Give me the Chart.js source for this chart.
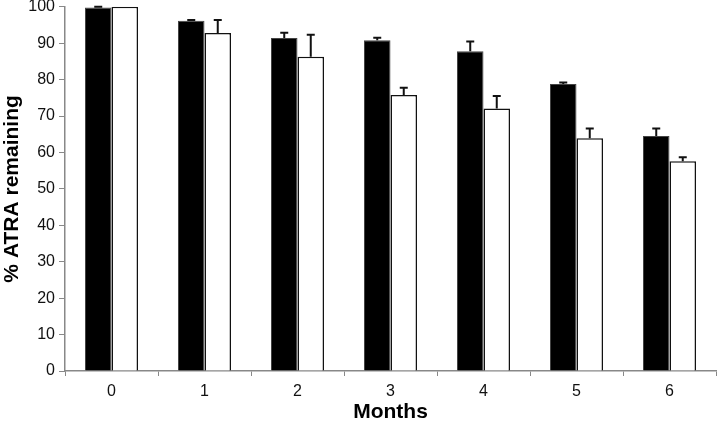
<!DOCTYPE html>
<html>
<head>
<meta charset="utf-8">
<script src="https://cdn.jsdelivr.net/npm/chart.js@4/dist/chart.umd.min.js"></script>
<style>
  html, body { margin: 0; padding: 0; background: #fff; }
  #wrap { width: 717px; height: 423px; }
</style>
</head>
<body>
<div id="wrap"><canvas id="myChart" width="717" height="423"></canvas></div>
<script>
var months = ["0", "1", "2", "3", "4", "5", "6"];
var blackValues = [99.8, 96.2, 91.4, 90.8, 87.8, 78.8, 64.5];
var blackErrors = [0.2, 0.2, 1.5, 0.7, 2.7, 0.4, 2.1];
var whiteValues = [100, 92.8, 86.3, 75.8, 72.1, 63.9, 57.6];
var whiteErrors = [0, 3.6, 6.0, 2.0, 3.4, 2.7, 1.1];

// upward error bars with a cap
const errorBars = {
  id: "errorBars",
  afterDatasetsDraw(chart) {
    const ctx = chart.ctx;
    const yScale = chart.scales.y;
    chart.data.datasets.forEach(function (ds, i) {
      const meta = chart.getDatasetMeta(i);
      meta.data.forEach(function (bar, j) {
        const err = ds.errors[j];
        if (!err) return;
        const yTop = yScale.getPixelForValue(ds.data[j] + err);
        ctx.save();
        ctx.strokeStyle = "#111";
        ctx.lineWidth = 2;
        ctx.beginPath();
        ctx.moveTo(bar.x, bar.y);
        ctx.lineTo(bar.x, yTop);
        ctx.moveTo(bar.x - 4, yTop);
        ctx.lineTo(bar.x + 4, yTop);
        ctx.stroke();
        ctx.restore();
      });
    });
  }
};

const ctx = document.getElementById("myChart");
const myChart = new Chart(ctx, {
  type: "bar",
  data: {
    labels: months,
    datasets: [
      {
        data: blackValues,
        errors: blackErrors,
        backgroundColor: "#000",
        borderColor: "#444",
        borderWidth: 1,
        barPercentage: 1,
        categoryPercentage: 0.57
      },
      {
        data: whiteValues,
        errors: whiteErrors,
        backgroundColor: "#fff",
        borderColor: "#111",
        borderWidth: 1.5,
        barPercentage: 1,
        categoryPercentage: 0.57
      }
    ]
  },
  options: {
    responsive: false,
    animation: false,
    layout: { padding: { top: 0, right: 1, left: 0, bottom: 0 } },
    plugins: {
      legend: { display: false },
      tooltip: { enabled: false }
    },
    scales: {
      x: {
        grid: { drawOnChartArea: false, drawTicks: true, tickLength: 5, color: "#888" },
        border: { display: true, color: "#888", width: 1.5 },
        ticks: { color: "#111", font: { family: "Liberation Sans", size: 16 }, padding: 6 },
        title: { display: true, text: "Months", color: "#000", font: { family: "Liberation Sans", size: 21, weight: "bold", lineHeight: 1 }, padding: { top: 4, bottom: 0 } },
        afterFit: function (s) { s.height = 52; }
      },
      y: {
        min: 0,
        max: 100,
        ticks: { stepSize: 10, color: "#111", font: { family: "Liberation Sans", size: 16, lineHeight: 0.35 }, padding: 4 },
        grid: { drawOnChartArea: false, drawTicks: true, tickLength: 6, color: "#888" },
        border: { display: true, color: "#888", width: 1.5 },
        title: { display: true, text: "% ATRA remaining", color: "#000", font: { family: "Liberation Sans", size: 21, weight: "bold", lineHeight: 1.2 }, padding: { top: 0, bottom: 4 } },
        afterFit: function (s) { s.width = 65; }
      }
    }
  },
  plugins: [errorBars]
});
</script>
</body>
</html>
